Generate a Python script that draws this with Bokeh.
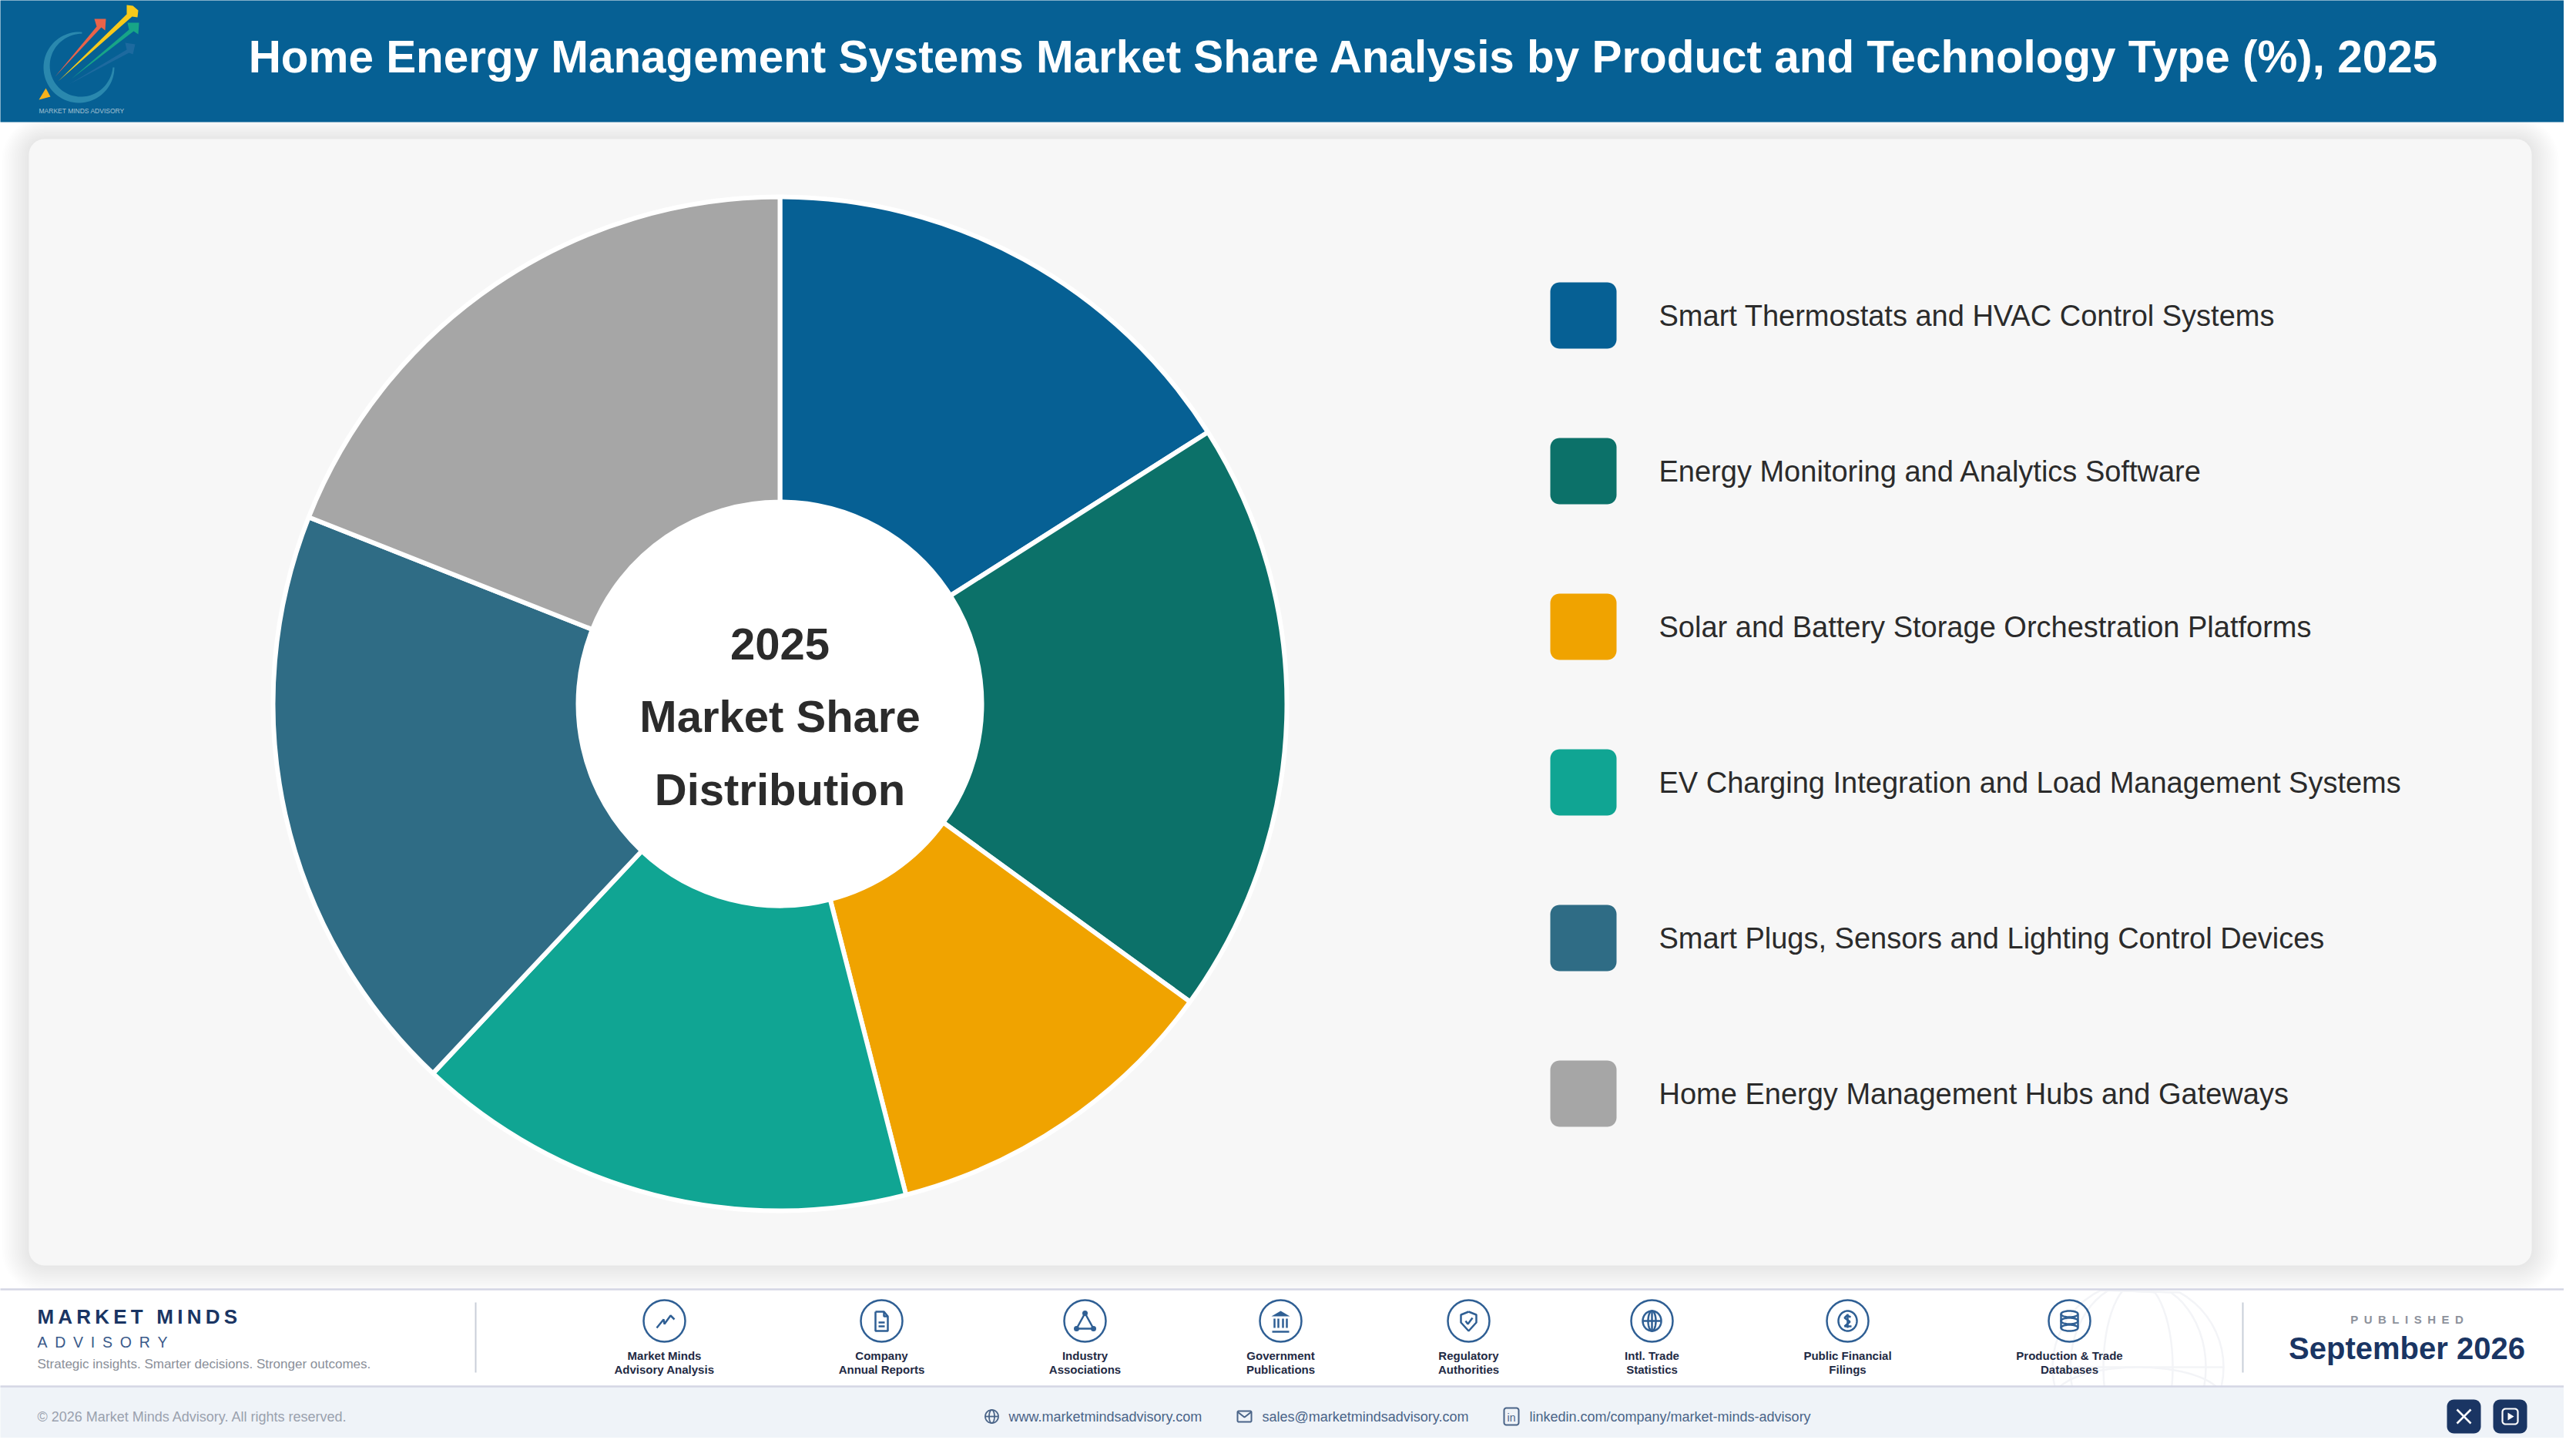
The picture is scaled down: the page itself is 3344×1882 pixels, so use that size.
import numpy as np
from bokeh.core.properties import value
from bokeh.embed import file_html
from bokeh.models import ColumnDataSource, Range1d
from bokeh.plotting import figure
from bokeh.resources import INLINE

title = "Home Energy Management Systems Market Share Analysis by Product and Technology Type (%), 2025"
center_lines = ["2025", "Market Share", "Distribution"]
categories = [
    "Smart Thermostats and HVAC Control Systems",
    "Energy Monitoring and Analytics Software",
    "Solar and Battery Storage Orchestration Platforms",
    "EV Charging Integration and Load Management Systems",
    "Smart Plugs, Sensors and Lighting Control Devices",
    "Home Energy Management Hubs and Gateways",
]
shares = [16, 19, 11, 16, 19, 19]
colors = ["#066094", "#0c7169", "#f0a300", "#10a593", "#2f6c85", "#a6a6a6"]

source_lines = [
    ("Market Minds", "Advisory Analysis"), ("Company", "Annual Reports"),
    ("Industry", "Associations"), ("Government", "Publications"),
    ("Regulatory", "Authorities"), ("Intl. Trade", "Statistics"),
    ("Public Financial", "Filings"), ("Production & Trade", "Databases"),
]
source_x = [870, 1152, 1416, 1670, 1914, 2152, 2406, 2694]
contacts = ["www.marketmindsadvisory.com", "sales@marketmindsadvisory.com", "linkedin.com/company/market-minds-advisory"]

FONT = "Liberation Sans"
W, H = 3344, 1882
NAVY = "#1a3563"
ICON = "#2f5f94"


def Y(py):
    # page pixels run downwards, the data axis upwards
    return H - np.asarray(py, dtype=float)


def rounded(x0, y0, x1, y1, r):
    xs, ys = [], []
    for cx, cy, a in [(x1 - r, y0 + r, -90), (x1 - r, y1 - r, 0), (x0 + r, y1 - r, 90), (x0 + r, y0 + r, 180)]:
        t = np.radians(np.linspace(a, a + 90, 10))
        xs += list(cx + r * np.cos(t))
        ys += list(cy + r * np.sin(t))
    return xs, list(Y(ys))


def ring(cx, cy, rx, ry, a0=0, a1=360, n=60):
    t = np.radians(np.linspace(a0, a1, n))
    return list(cx + rx * np.cos(t)), list(cy + ry * np.sin(t))


p = figure(width=W - 16, height=H - 16, x_range=Range1d(8, W - 8), y_range=Range1d(8, H - 8),
           output_backend="svg", toolbar_location=None, min_border=0)
p.axis.visible = False
p.grid.visible = False
p.outline_line_color = None
p.background_fill_color = "white"
p.border_fill_color = "white"


def box(x0, y0, x1, y1, r, color, alpha=1.0):
    xs, ys = rounded(x0, y0, x1, y1, r)
    p.patch(xs, ys, fill_color=color, fill_alpha=alpha, line_color=None)


def txt(x, y, s, size, color, bold=False, align="left"):
    p.text([x], [float(Y(y))], text=[s], text_font=value(FONT), text_font_size=f"{size}px", text_color=color,
           text_font_style="bold" if bold else "normal", text_align=align, text_baseline="middle")


# panel and its soft shadow
for i in range(24, 0, -1):
    box(45 - 1.5 * i, 188 - 1.2 * i, 3294 + 1.5 * i, 1650 + 1.5 * i, 20 + 1.5 * i, "#000000", 0.0028)
box(45, 188, 3294, 1650, 20, "#f7f7f7")

# donut
cum = np.cumsum([0] + shares)
angles = np.pi / 2 - 2 * np.pi * cum / sum(shares)
pie = ColumnDataSource(dict(start=angles[:-1], end=angles[1:], color=colors))
p.annular_wedge(x=1020, y=float(Y(921)), inner_radius=262, outer_radius=658, start_angle="start", end_angle="end",
                direction="clock", fill_color="color", line_color="white", line_width=6, source=pie)
p.circle(x=[1020], y=[float(Y(921))], radius=262, fill_color="white", line_color="white", line_width=3)
for line, y in zip(center_lines, [843, 937, 1032]):
    txt(1020, y, line, 58, "#2b2b2b", bold=True, align="center")

# legend
for i, (name, color) in enumerate(zip(categories, colors)):
    y = 374 + 202 * i
    box(2020, y, 2106, y + 86, 12, color)
    txt(2161, y + 43, name, 38, "#2b2b2b")

# header
box(-10, -10, W + 10, 166, 0.1, "#066094")
txt(1752, 81, title, 58.4, "white", bold=True, align="center")

# logo: a crescent ring open at the upper right, then the arrows
t = np.radians(np.linspace(-85, -360, 70))
thick = 2 + 7 * np.sin(np.linspace(0, np.pi, 70))
outer_x, outer_y = 110 + 46 * np.cos(t), 95 + 46 * np.sin(t)
inner_x, inner_y = 110 + (46 - thick) * np.cos(t), 95 + (46 - thick) * np.sin(t)
p.patch(list(outer_x) + list(inner_x[::-1]), list(Y(list(outer_y) + list(inner_y[::-1]))),
        fill_color="#2f8db0", fill_alpha=0.9, line_color=None)
logo_arrows = [
    ("#1d6a9f", [(97, 117), (172, 72), (170, 63), (183, 65), (180, 78), (175, 76)]),
    ("#e9634a", [(79, 107), (133, 42), (130, 32), (145, 32), (144, 47), (139, 43)]),
    ("#f7c91a", [(83, 113), (172, 26), (172, 14), (180, 15), (187, 21), (186, 30), (179, 29)]),
    ("#17a587", [(100, 110), (175, 46), (173, 37), (188, 37), (187, 52), (181, 48)]),
    ("#f6b21b", [(58, 137), (67, 122), (73, 133)]),
]
for color, pts in logo_arrows:
    p.patch([q[0] for q in pts], list(Y([q[1] for q in pts])), fill_color=color, line_color=None)
txt(58, 151, "MARKET MINDS ADVISORY", 8.5, "#a5c0d2")

# footer bands
box(-10, 1681, W + 10, 1807, 0.1, "white")

# faint globe behind the footer
gx, gy, gr = 2783, 1782, 111
globe = [ring(gx, gy, gr, gr), ring(gx, gy, 45, gr), ring(gx, gy, 88, gr)]
globe.append(ring(gx, gy + 40, gr - 2, 40, 180, 360))
globe.append(([gx - gr, gx + gr], [gy, gy]))
for gxs, gys in globe:
    keep = np.array(gys) > 1682
    p.line(list(np.array(gxs)[keep]), list(Y(np.array(gys)[keep])), line_color="#f3f4f7", line_width=2.5)

box(-10, 1807, W + 10, H + 10, 0.1, "#eff3f8")
p.segment(x0=[-10, -10], x1=[W + 10, W + 10], y0=list(Y([1681, 1807])), y1=list(Y([1681, 1807])),
          line_color="#d4d6e4", line_width=2.5)
p.segment(x0=[625, 2919], x1=[625, 2919], y0=list(Y([1698, 1698])), y1=list(Y([1789, 1789])),
          line_color="#c9ced8", line_width=2)

txt(56, 1716, "\u2009".join("MARKET MINDS"), 26, NAVY, bold=True)
txt(56, 1749, "\u2002".join("ADVISORY"), 19.5, "#3a5a8a")
txt(56, 1778, "Strategic insights. Smarter decisions. Stronger outcomes.", 17, "#8a8f99")
txt(3132, 1720, "\u2002".join("PUBLISHED"), 15, "#8d929c", bold=True, align="center")
txt(3132, 1757, "September 2026", 40, NAVY, bold=True, align="center")
txt(56, 1846, "\u00a9 2026 Market Minds Advisory. All rights reserved.", 18, "#9aa1ae")

# source icons, drawn as line pieces around each circle's centre
cy = 1722
for (l1, l2), cx in zip(source_lines, source_x):
    p.circle(x=[cx], y=[float(Y(cy))], radius=27, fill_color="white", fill_alpha=0.0, line_color=ICON, line_width=2.5)
    txt(cx, 1767, l1, 15, "#1f2a44", bold=True, align="center")
    txt(cx, 1785, l2, 15, "#1f2a44", bold=True, align="center")

icon_shapes = [
    [[(-10, 9), (-1, -2), (0, 4), (8, -7), (13, -2)]],
    [[(-8, -12), (3, -12), (8, -6), (8, 13), (-8, 13), (-8, -12)], [(3, -12), (3, -6), (8, -6)], [(-4, 2), (4, 2)], [(-4, 7), (4, 7)]],
    [[(0, -10), (-11, 10), (11, 10), (0, -10)]],
    [[(-11, 14), (11, 14)], [(-8, 9), (-8, -3)], [(-3, 9), (-3, -3)], [(3, 9), (3, -3)], [(8, 9), (8, -3)]],
    [[(0, -12), (10, -8), (10, 2), (0, 13), (-10, 2), (-10, -8), (0, -12)], [(-4, 0), (-1, 4), (5, -4)]],
    [ring(0, 0, 12, 13), ring(0, 0, 5, 13), [(-12, 0), (12, 0)], [(0, -13), (0, 13)]],
    [ring(0, 0, 12, 13), [(4, -5), (-1, -7), (-4, -4), (3, 1), (-4, 7), (5, 7)], [(0, -9), (0, 9)]],
    [ring(0, -9, 11, 4), ring(0, 0, 11, 4), ring(0, 9, 11, 4), [(-11, -9), (-11, 9)], [(11, -9), (11, 9)]],
]
for cx, shapes in zip(source_x, icon_shapes):
    for shape in shapes:
        if isinstance(shape, tuple):
            xs, ys = shape
        else:
            xs, ys = [q[0] for q in shape], [q[1] for q in shape]
        p.line(list(cx + np.array(xs)), list(Y(cy + np.array(ys))), line_color=ICON, line_width=2.5)
# filled bits: the bank roof and the nodes of the triangle
p.patch([1670 - 12, 1670, 1670 + 12], list(Y([cy - 6, cy - 13, cy - 6])), fill_color=ICON, line_color=None)
p.circle(x=[1416, 1416 - 11, 1416 + 11], y=list(Y([cy - 10, cy + 10, cy + 10])), radius=3.5, fill_color=ICON, line_color=None)

# contact row
row = 1846
for x, label in zip([1317, 1646, 1993], contacts):
    txt(x, row, label, 18, "#4a6488")
gxs, gys = ring(1295, row, 8.5, 8.5)
p.line(gxs, list(Y(gys)), line_color="#4a6488", line_width=1.8)
gxs, gys = ring(1295, row, 3.5, 8.5)
p.line(gxs, list(Y(gys)), line_color="#4a6488", line_width=1.8)
p.segment(x0=[1286.5], x1=[1303.5], y0=[float(Y(row))], y1=[float(Y(row))], line_color="#4a6488", line_width=1.8)
mx, my = rounded(1614, row - 7, 1632, row + 7, 1.5)
p.patch(mx, my, fill_color=None, line_color="#4a6488", line_width=2)
p.line([1614, 1623, 1632], list(Y([row - 6, row + 1, row - 6])), line_color="#4a6488", line_width=2)
lx, ly = rounded(1960, row - 11, 1979, row + 11, 3)
p.patch(lx, ly, fill_color=None, line_color="#4a6488", line_width=2)
txt(1969.5, row + 1, "in", 14, "#4a6488", align="center")

# social buttons
box(3184, 1824, 3228, 1868, 9, NAVY)
box(3244, 1824, 3288, 1868, 9, NAVY)
p.segment(x0=[3197, 3197], x1=[3215, 3215], y0=list(Y([1837, 1855])), y1=list(Y([1855, 1837])), line_color="white", line_width=2.5)
bx, by = rounded(3256, 1836, 3276, 1856, 4)
p.patch(bx, by, fill_color=None, line_color="white", line_width=2.2)
p.patch([3263, 3271, 3263], list(Y([1841, 1846, 1851])), fill_color="white", line_color=None)

open("out.html", "w").write(file_html(p, INLINE))
